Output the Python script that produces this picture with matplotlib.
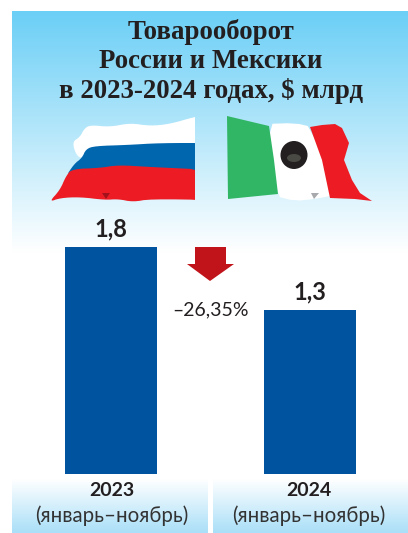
import numpy as np
import matplotlib
matplotlib.use('Agg')
import matplotlib.pyplot as plt
from matplotlib.patches import Polygon, Ellipse

years = ['2023', '2024']
period = '(январь–ноябрь)'
values = [1.8, 1.3]
value_labels = ['1,8', '1,3']
change_label = '–26,35%'
title_lines = ['Товарооборот', 'России и Мексики', 'в 2023-2024 годах, $ млрд']

W, H = 408, 533
BAR = '#00539f'
TXT = '#231f20'


# rounds off the corners of the hand traced flag outlines
def smooth(pts, n=2):
	pts = np.array(pts, dtype=float)
	for k in range(n):
		a = pts
		b = np.roll(pts, -1, axis=0)
		pts = np.empty((len(a) * 2, 2))
		pts[0::2] = 0.75 * a + 0.25 * b
		pts[1::2] = 0.25 * a + 0.75 * b
	return pts


def gradient(ax, x0, x1, y0, y1, c0, c1):
	c0 = np.array(matplotlib.colors.to_rgb(c0))
	c1 = np.array(matplotlib.colors.to_rgb(c1))
	t = np.linspace(0, 1, 256)[:, None, None]
	img = c0[None, None, :] * (1 - t) + c1[None, None, :] * t
	ax.imshow(img, extent=(x0, x1, y1, y0), aspect='auto', zorder=0, interpolation='bilinear')


fig = plt.figure(figsize=(W / 100, H / 100), dpi=100, facecolor='white')

# background layer in pixel coordinates
bg = fig.add_axes([0, 0, 1, 1])
gradient(bg, 12, 408, 11, 253, '#6bcff6', '#ffffff')
gradient(bg, 12, 208, 479, 533, '#ffffff', '#a9dff8')
gradient(bg, 213, 408, 479, 533, '#ffffff', '#a9dff8')
bg.set_xlim(0, W)
bg.set_ylim(H, 0)
bg.axis('off')

# russian flag, outlines overshoot the hoist and get clipped by the straight edge below
clip_ru = Polygon([(40, 110), (194.5, 110), (194.5, 205), (40, 205)], transform=bg.transData)
white_ru = [(215, 113), (194, 117), (170, 124), (150, 126), (130, 123), (110, 127), (90, 125), (84, 129), (80, 137), (72, 142), (77, 157), (85, 158), (127, 155), (215, 155)]
blue_ru = [(215, 143), (160, 143), (127, 145), (95, 146), (86, 149), (82, 158), (74, 164), (65, 178), (100, 176), (150, 176), (215, 176)]
red_ru = [(215, 170), (150, 167), (118, 165), (100, 168), (72, 169), (66, 176), (60, 190), (49, 202), (60, 198), (80, 197), (105, 200), (118, 199), (133, 202), (150, 199), (215, 200), (215, 210)]
for pts, col, z in zip([white_ru, blue_ru, red_ru], ['white', '#0066ae', '#ed1c24'], [2, 3, 4]):
	p = bg.add_patch(Polygon(smooth(pts), color=col, lw=0, zorder=z))
	p.set_clip_path(clip_ru)
bg.add_patch(Polygon([(102, 193), (110, 193), (106, 199)], color='#a3121c', lw=0, zorder=5))

# mexican flag
white_mx = [(265, 124), (295, 123), (312, 127), (335, 195), (315, 199), (295, 201), (275, 196)]
green_mx = [(227, 116), (269, 126), (274, 160), (278, 194), (228, 199)]
red_mx = [(310, 127), (322, 125), (335, 124), (342, 128), (349, 143), (344, 160), (352, 180), (360, 193), (372, 201), (355, 199), (330, 198), (322, 160)]
bg.add_patch(Polygon(smooth(white_mx, 1), color='white', lw=0, zorder=2))
bg.add_patch(Polygon(green_mx, color='#31b666', lw=0, zorder=3))
bg.add_patch(Polygon(red_mx, color='#ed1c24', lw=0, zorder=3))
bg.add_patch(Ellipse((294, 155), 27, 28, color='#231f20', lw=0, zorder=4))
bg.add_patch(Ellipse((294, 158), 14, 8, color='#4a4a44', lw=0, zorder=5))
bg.add_patch(Polygon([(311, 193), (319, 193), (314, 199)], color='#a7a9ac', lw=0, zorder=4))

# arrow
bg.add_patch(Polygon([(195, 247), (226, 247), (226, 264), (234, 264), (210, 281), (187, 264), (195, 264)], color='#c1141a', lw=0, zorder=4))

# bars, one data unit = 126 px, centres 199 px apart
ax = fig.add_axes([0, (H - 474) / H, 1, 474 / H])
ax.patch.set_alpha(0)
xpos = np.arange(len(values))
ax.bar(xpos, values, width=92 / 199, color=BAR, linewidth=0)
ax.set_xlim(-111 / 199, (W - 111) / 199)
ax.set_ylim(0, 474 / 126)
ax.axis('off')
for x, v, lab in zip(xpos, values, value_labels):
	ax.annotate(lab, (x, v), xytext=(0, 5), textcoords='offset points', ha='center', va='bottom',
		fontsize=17, fontweight='bold', family='Lato', color=TXT)

for y, line in zip([32, 62, 91], title_lines):
	bg.text(211, y, line, ha='center', va='center', fontsize=19.4, fontweight='bold',
		family='Liberation Serif', color=TXT, zorder=6)

bg.text(211, 310, change_label, ha='center', va='center', fontsize=14, family='Lato', color=TXT, zorder=6)

for cx, yr in zip([112, 309], years):
	bg.text(cx, 491, yr, ha='center', va='center', fontsize=14, fontweight='bold', family='Lato', color=TXT, zorder=6)
	bg.text(cx, 516, period, ha='center', va='center', fontsize=14.8, family='Lato', color='#333333', zorder=6)

fig.savefig('out.png', dpi=100)
